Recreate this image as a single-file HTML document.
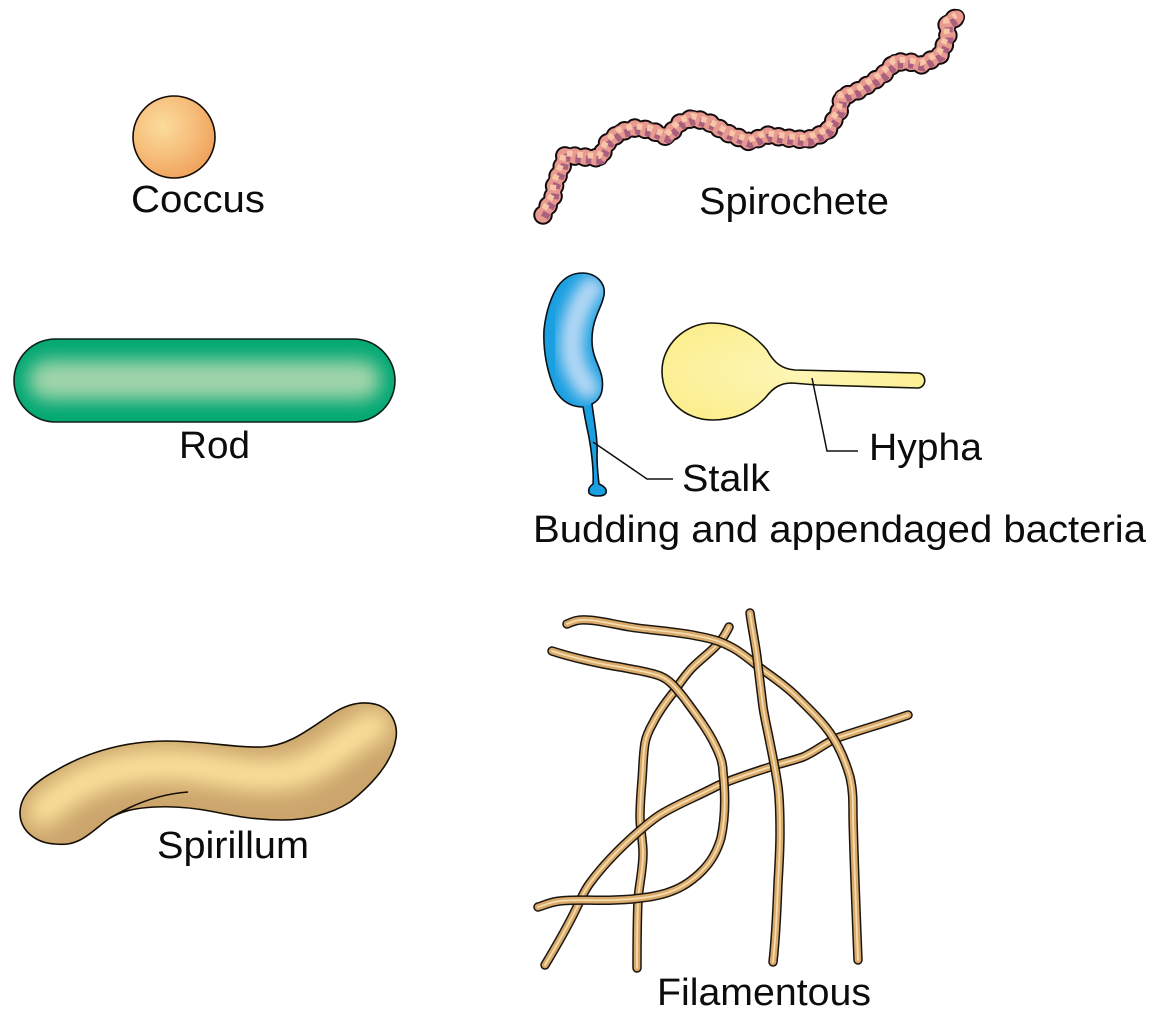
<!DOCTYPE html>
<html><head><meta charset="utf-8"><style>
html,body{margin:0;padding:0;background:#fff}
svg{display:block}
text{font-family:"Liberation Sans",sans-serif;font-size:38px;fill:#0c0c0c}
</style></head><body>
<svg width="1162" height="1024" viewBox="0 0 1162 1024" xmlns="http://www.w3.org/2000/svg">
<defs>
<radialGradient id="cg" cx="0.36" cy="0.36" r="0.72"><stop offset="0" stop-color="#fbdc9c"/><stop offset="0.55" stop-color="#f6bd7a"/><stop offset="1" stop-color="#ee9f58"/></radialGradient>
<radialGradient id="yg" cx="0.5" cy="0.5" r="0.6"><stop offset="0" stop-color="#fdf6b6"/><stop offset="1" stop-color="#fbee8e"/></radialGradient>
<filter id="b3" x="-20%" y="-100%" width="140%" height="300%"><feGaussianBlur stdDeviation="9"/></filter>
<filter id="b2" x="-80%" y="-30%" width="260%" height="160%"><feGaussianBlur stdDeviation="7"/></filter>
<filter id="b4" x="-30%" y="-60%" width="160%" height="220%"><feGaussianBlur stdDeviation="11"/></filter>
<clipPath id="rc"><rect x="14" y="339" width="381" height="83" rx="41.5"/></clipPath>
<clipPath id="bc"><path d="M582 273 C596 273 606 283 604 295 C602 308 592 318 592 340 C592 358 600 365 602 378 C604 392 600 400 592 404 L583 407 C572 407 562 402 555 390 C547 372 543 350 544 330 C546 310 552 295 558 286 C564 278 572 273 582 273Z"/></clipPath>
<clipPath id="sc"><path d="M20 813 C20 795 35 782 55 771 C90 750 130 741 167 741 C205 741 235 748 262 747 C290 746 310 728 335 712 C350 703 365 701 378 705 C392 710 398 725 396 738 C393 760 375 782 350 802 C330 815 305 820 283 820 C255 820 235 816 215 812 C195 808 175 806 155 807 C135 808 122 811 110 818 C100 825 90 835 80 840 C72 844 65 845 55 844 C35 843 20 830 20 813Z"/></clipPath>
<path id="sp" d="M543 215 L553 197 L555 183 L562 167 L565 155 L583 157 L600 158 L608 142 L620 132 L635 128 L650 130 L667 137 L680 123 L693 118 L710 123 L727 133 L750 142 L767 135 L787 138 L807 140 L827 132 L840 110 L842 97 L860 90 L883 75 L895 62 L910 62 L922 65 L940 55 L948 37 L947 23 L957 17"/>
<path id="f1" d="M567 624 C570 623 576 619 587 620 C597 620 612 624 630 627 C648 630 680 632 697 636 C714 639 722 642 733 648 C744 654 752 662 763 670 C774 678 786 686 797 697 C808 708 821 720 830 733 C839 746 846 763 850 777 C853 790 853 800 853 817 C854 860 856 910 858 960"/>
<path id="f2" d="M552 651 C570 657 600 664 620 667 C635 670 650 672 660 676 C670 680 676 688 684 698 C695 713 708 730 715 745 C720 755 723 763 723 772 C725 790 726 815 721 838 C717 852 711 862 702 871 C692 881 683 887 672 891 C660 896 640 899 615 900 C595 901 575 899 560 901 C550 902 545 905 538 907"/>
<path id="f3" d="M729 627 C725 635 722 640 715 647 C708 654 700 660 693 667 C685 675 680 683 673 693 C665 703 658 713 653 723 C649 730 646 737 645 743 C643 755 643 768 642 780 C641 792 640 805 640 817 C640 830 643 840 643 853 C643 870 639 885 638 900 C637 925 637 945 637 968"/>
<path id="f4" d="M750 613 C752 628 755 642 757 657 C759 675 761 690 763 707 C765 720 768 732 770 743 C773 758 776 772 778 787 C780 802 780 818 780 833 C780 850 779 866 778 883 C777 910 776 935 773 962"/>
<path id="f5" d="M908 715 C885 723 860 730 837 738 C825 743 815 752 803 757 C792 761 781 763 770 767 C752 773 735 778 717 786 C698 796 680 803 663 813 C654 818 645 826 637 833 C620 848 604 864 590 883 C584 891 581 899 577 907 C567 928 557 945 545 965"/>
</defs>

<!-- Coccus -->
<circle cx="174" cy="137" r="41" fill="url(#cg)" stroke="#140c04" stroke-width="1.6"/>

<!-- Rod -->
<rect x="14" y="339" width="381" height="83" rx="41.5" fill="#03a873"/>
<g clip-path="url(#rc)"><rect x="28" y="360" width="353" height="40" rx="20" fill="#a0d4aa" filter="url(#b3)"/></g>
<rect x="14" y="339" width="381" height="83" rx="41.5" fill="none" stroke="#102018" stroke-width="1.6"/>

<!-- Spirillum -->
<path d="M20 813 C20 795 35 782 55 771 C90 750 130 741 167 741 C205 741 235 748 262 747 C290 746 310 728 335 712 C350 703 365 701 378 705 C392 710 398 725 396 738 C393 760 375 782 350 802 C330 815 305 820 283 820 C255 820 235 816 215 812 C195 808 175 806 155 807 C135 808 122 811 110 818 C100 825 90 835 80 840 C72 844 65 845 55 844 C35 843 20 830 20 813Z" fill="#cba56c"/>
<g clip-path="url(#sc)"><path d="M42 812 C75 780 115 765 167 765 C210 765 245 780 285 774 C325 768 345 738 375 725" fill="none" stroke="#fde49c" stroke-width="30" stroke-linecap="round" filter="url(#b4)"/></g>
<path d="M20 813 C20 795 35 782 55 771 C90 750 130 741 167 741 C205 741 235 748 262 747 C290 746 310 728 335 712 C350 703 365 701 378 705 C392 710 398 725 396 738 C393 760 375 782 350 802 C330 815 305 820 283 820 C255 820 235 816 215 812 C195 808 175 806 155 807 C135 808 122 811 110 818 C100 825 90 835 80 840 C72 844 65 845 55 844 C35 843 20 830 20 813Z" fill="none" stroke="#140e04" stroke-width="1.6"/>
<path d="M188 792 C160 794 135 803 110 818" fill="none" stroke="#140e04" stroke-width="1.6"/>

<!-- Spirochete -->
<g fill="none" stroke-linejoin="round">
<use href="#sp" stroke="#120a0c" stroke-width="19.5" stroke-linecap="round" stroke-dasharray="0.1 10.5"/>
<use href="#sp" stroke="#120a0c" stroke-width="16" stroke-linecap="round"/>
<use href="#sp" stroke="#e99a90" stroke-width="13" stroke-linecap="round"/>
<use href="#sp" stroke="#e99a90" stroke-width="15.5" stroke-linecap="round" stroke-dasharray="0.1 10.5"/>
<use href="#sp" transform="translate(1.5 2.5)" stroke="#a9607f" stroke-width="8" stroke-dasharray="5.5 5"/>
<use href="#sp" transform="translate(-1 -2)" stroke="#f8c5a6" stroke-width="6" stroke-dasharray="5.5 5" stroke-dashoffset="6"/>
</g>

<!-- Budding -->
<path d="M582 273 C596 273 606 283 604 295 C602 308 592 318 592 340 C592 358 600 365 602 378 C604 392 600 400 592 404 C594 420 598 440 597 455 C597 468 598 475 599 484 C604 486 607 489 606 493 C604 497 592 497 589 493 C588 489 590 486 593 484 C594 470 591 445 587 428 C585 418 584 412 583 407 C572 407 562 402 555 390 C547 372 543 350 544 330 C546 310 552 295 558 286 C564 278 572 273 582 273Z" fill="#1a9fe0"/>
<g clip-path="url(#bc)"><path d="M592 288 C577 305 570 332 572 352 C574 368 580 378 588 388" fill="none" stroke="#b6d8f5" stroke-width="24" stroke-linecap="round" filter="url(#b2)"/></g>
<path d="M582 273 C596 273 606 283 604 295 C602 308 592 318 592 340 C592 358 600 365 602 378 C604 392 600 400 592 404 C594 420 598 440 597 455 C597 468 598 475 599 484 C604 486 607 489 606 493 C604 497 592 497 589 493 C588 489 590 486 593 484 C594 470 591 445 587 428 C585 418 584 412 583 407 C572 407 562 402 555 390 C547 372 543 350 544 330 C546 310 552 295 558 286 C564 278 572 273 582 273Z" fill="none" stroke="#081018" stroke-width="1.6"/>
<path d="M712 323 C740 323 757 338 767 350 C774 363 782 369 795 370 L918 373 C927 374 927 387 918 388 L817 385 L792 383 C780 383 773 388 766 397 C752 412 735 420 712 420 C685 420 662 400 662 371 C662 345 685 323 712 323Z" fill="url(#yg)" stroke="#14140a" stroke-width="1.6"/>
<path d="M593 442 L647 479 L673 479" fill="none" stroke="#101010" stroke-width="1.5"/>
<path d="M812 378 L827 451 L858 451" fill="none" stroke="#101010" stroke-width="1.5"/>

<!-- Filamentous -->
<g fill="none" stroke-linecap="round" stroke-linejoin="round">
<use href="#f3" stroke="#1c1610" stroke-width="9.5"/><use href="#f3" stroke="#d8a968" stroke-width="6.5"/><use href="#f3" stroke="#f5dcae" stroke-width="1.8"/>
<use href="#f5" stroke="#1c1610" stroke-width="9.5"/><use href="#f5" stroke="#d8a968" stroke-width="6.5"/><use href="#f5" stroke="#f5dcae" stroke-width="1.8"/>
<use href="#f2" stroke="#1c1610" stroke-width="9.5"/><use href="#f2" stroke="#d8a968" stroke-width="6.5"/><use href="#f2" stroke="#f5dcae" stroke-width="1.8"/>
<use href="#f1" stroke="#1c1610" stroke-width="9.5"/><use href="#f1" stroke="#d8a968" stroke-width="6.5"/><use href="#f1" stroke="#f5dcae" stroke-width="1.8"/>
<use href="#f4" stroke="#1c1610" stroke-width="9.5"/><use href="#f4" stroke="#d8a968" stroke-width="6.5"/><use href="#f4" stroke="#f5dcae" stroke-width="1.8"/>
</g>

<!-- Labels -->
<text x="131" y="212" textLength="134" lengthAdjust="spacingAndGlyphs">Coccus</text>
<text x="699" y="214" textLength="190" lengthAdjust="spacingAndGlyphs">Spirochete</text>
<text x="179" y="458" textLength="71" lengthAdjust="spacingAndGlyphs">Rod</text>
<text x="869" y="460" textLength="113" lengthAdjust="spacingAndGlyphs">Hypha</text>
<text x="682" y="491" textLength="88" lengthAdjust="spacingAndGlyphs">Stalk</text>
<text x="533" y="542" textLength="613" lengthAdjust="spacingAndGlyphs">Budding and appendaged bacteria</text>
<text x="157" y="858" textLength="152" lengthAdjust="spacingAndGlyphs">Spirillum</text>
<text x="657" y="1005" textLength="214" lengthAdjust="spacingAndGlyphs">Filamentous</text>
</svg>
</body></html>
